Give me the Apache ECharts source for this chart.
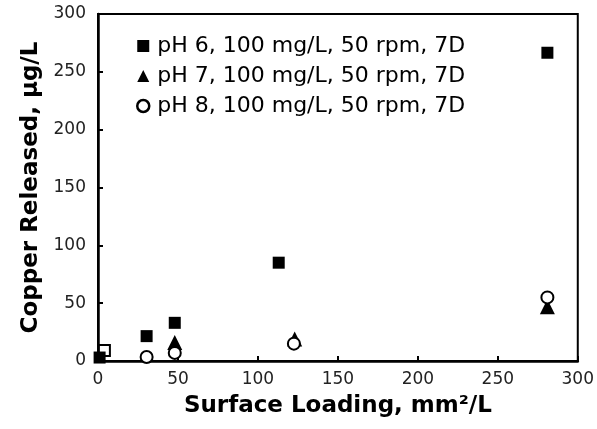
<!DOCTYPE html>
<html><head><meta charset="utf-8">
<script src="https://cdn.jsdelivr.net/npm/echarts@6/dist/echarts.min.js"></script>
<style>html,body{margin:0;padding:0;background:#fff}#c{width:597px;height:429px}</style>
</head><body><div id="c"></div>
<script>
var seriesNames = ['pH 6, 100 mg/L, 50 rpm, 7D', 'pH 7, 100 mg/L, 50 rpm, 7D', 'pH 8, 100 mg/L, 50 rpm, 7D'];
var ph6 = [[1, 3], [30.4, 21.5], [48, 33], [113, 85], [281, 266.5]];
var ph6open = [[4, 9]];
var ph7 = [[48, 16], [123, 19], [281, 47]];
var ph8 = [[30.4, 3.5], [48, 7], [122.5, 15], [281, 55]];
var xTicks = {min: 0, max: 300, interval: 50};
var yTicks = {min: 0, max: 300, interval: 50};
var xTitle = 'Surface Loading, mm\u00b2/L';
var yTitle = 'Copper Released, \u03bcg/L';

var font = 'DejaVu Sans';
var chart = echarts.init(document.getElementById('c'), null, {renderer: 'canvas'});
var axisCommon = {
  splitLine: {show: false},
  axisLine: {show: true, onZero: false, lineStyle: {color: '#000', width: 2.5}},
  axisTick: {show: true, inside: true, length: 5, lineStyle: {color: '#000', width: 2}},
  axisLabel: {color: '#222', fontSize: 17, fontFamily: font},
  nameLocation: 'middle',
  nameTextStyle: {color: '#000', fontSize: 23, fontWeight: 'bold', fontFamily: font}
};
chart.setOption({
  animation: false,
  grid: {left: 98, right: 17, top: 14, bottom: 68, show: true, borderColor: '#000', borderWidth: 2, backgroundColor: 'transparent'},
  xAxis: Object.assign({}, axisCommon, {type: 'value', min: xTicks.min, max: xTicks.max, interval: xTicks.interval,
    name: xTitle, nameGap: 34, axisLabel: Object.assign({}, axisCommon.axisLabel, {margin: 10})}),
  yAxis: Object.assign({}, axisCommon, {type: 'value', min: yTicks.min, max: yTicks.max, interval: yTicks.interval,
    name: yTitle, nameGap: 53, axisLabel: Object.assign({}, axisCommon.axisLabel, {margin: 12})}),
  legend: {
    data: [
      {name: seriesNames[0], icon: 'rect'},
      {name: seriesNames[1], icon: 'triangle'},
      {name: seriesNames[2], icon: 'circle', itemStyle: {color: '#fff', borderColor: '#000', borderWidth: 2.5}}
    ],
    orient: 'vertical', left: 131, top: 30, itemWidth: 12, itemHeight: 12, itemGap: 8,
    textStyle: {fontSize: 22, fontFamily: font, color: '#000', lineHeight: 22, padding: [0, 0, 0, 3]}
  },
  series: [
    {name: seriesNames[0], type: 'scatter', data: ph6, symbol: 'rect', symbolSize: 12,
      itemStyle: {color: '#000', opacity: 1}, z: 3},
    {name: 'open', type: 'scatter', data: ph6open, symbol: 'rect', symbolSize: 11,
      itemStyle: {color: '#fff', borderColor: '#000', borderWidth: 2, opacity: 1}, z: 2},
    {name: seriesNames[1], type: 'scatter', data: ph7, symbol: 'triangle', symbolSize: 15,
      itemStyle: {color: '#000', opacity: 1}, z: 3},
    {name: seriesNames[2], type: 'scatter', data: ph8, symbol: 'circle', symbolSize: 12,
      itemStyle: {color: '#fff', borderColor: '#000', borderWidth: 2, opacity: 1}, z: 4}
  ]
});
</script></body></html>
